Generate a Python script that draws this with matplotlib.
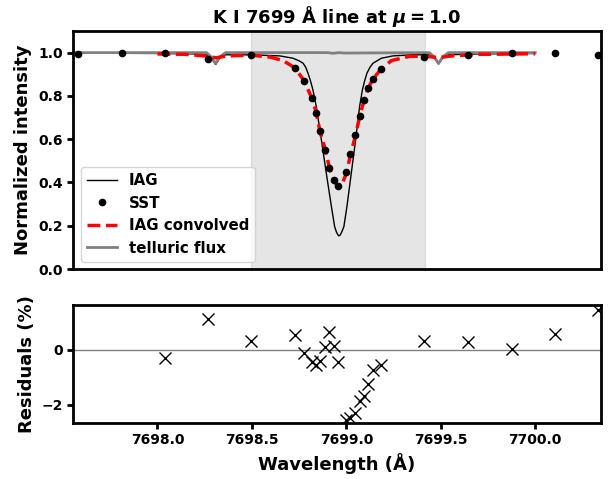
import sys
import numpy as np
import matplotlib
matplotlib.use('Agg')
matplotlib.rc('font', weight='bold')
matplotlib.rc('axes', labelweight='bold', linewidth=2)
matplotlib.rc('xtick', labelsize=10)
matplotlib.rc('ytick', labelsize=10)
import matplotlib.pyplot as plt

# IAG atlas spectrum
iag_wl = [7697.55, 7697.80, 7698.00, 7698.20, 7698.26, 7698.285, 7698.308, 7698.33, 7698.36,
          7698.45, 7698.55, 7698.647, 7698.718, 7698.75, 7698.771, 7698.785, 7698.797, 7698.81,
          7698.823, 7698.841, 7698.868, 7698.894, 7698.921, 7698.938, 7698.947, 7698.955, 7698.961,
          7698.968, 7698.976, 7698.987, 7699.003, 7699.026, 7699.049, 7699.070, 7699.085, 7699.097,
          7699.109, 7699.125, 7699.141, 7699.185, 7699.247, 7699.35, 7699.44, 7699.465, 7699.488,
          7699.51, 7699.54, 7699.70, 7700.00]
iag_int = [0.997, 0.997, 0.996, 0.994, 0.990, 0.975, 0.945, 0.975, 0.990,
           0.990, 0.988, 0.985, 0.974, 0.962, 0.951, 0.932, 0.905, 0.870,
           0.828, 0.750, 0.596, 0.442, 0.288, 0.196, 0.172, 0.158, 0.153,
           0.158, 0.172, 0.196, 0.288, 0.442, 0.596, 0.750, 0.828, 0.870,
           0.905, 0.932, 0.951, 0.974, 0.985, 0.990, 0.990, 0.975, 0.948,
           0.975, 0.990, 0.994, 0.996]

# IAG convolved with SST instrumental profile
conv_wl = [7698.00, 7698.15, 7698.25, 7698.31, 7698.37, 7698.50, 7698.60, 7698.665, 7698.726,
           7698.776, 7698.816, 7698.841, 7698.86, 7698.889, 7698.91, 7698.933, 7698.956, 7698.975,
           7699.00, 7699.021, 7699.048, 7699.07, 7699.093, 7699.116, 7699.139, 7699.185, 7699.238,
           7699.335, 7699.42, 7699.49, 7699.56, 7699.70, 7700.00]
conv_int = [0.994, 0.992, 0.985, 0.976, 0.985, 0.988, 0.979, 0.963, 0.931,
            0.871, 0.792, 0.723, 0.638, 0.550, 0.470, 0.410, 0.380, 0.390,
            0.440, 0.525, 0.615, 0.703, 0.777, 0.836, 0.876, 0.925, 0.963,
            0.983, 0.983, 0.977, 0.985, 0.992, 0.995]

# telluric transmission
tell_wl = [7697.55, 7698.26, 7698.285, 7698.308, 7698.33, 7698.36, 7698.90, 7698.93, 7698.96,
           7698.99, 7699.44, 7699.465, 7699.488, 7699.51, 7699.54, 7700.00]
tell_int = [1.0, 1.0, 0.98, 0.95, 0.98, 1.0, 1.0, 0.997, 1.0,
            0.998, 1.0, 0.98, 0.95, 0.98, 1.0, 1.0]

# SST observations
sst_wl = [7697.577, 7697.81, 7698.04, 7698.266, 7698.497, 7698.726, 7698.776, 7698.816, 7698.841,
          7698.86, 7698.889, 7698.91, 7698.933, 7698.956, 7699.0, 7699.021, 7699.048, 7699.07,
          7699.093, 7699.116, 7699.139, 7699.185, 7699.411, 7699.643, 7699.877, 7700.103, 7700.333]
sst_int = [0.993, 1.0, 1.0, 0.97, 0.989, 0.931, 0.871, 0.792, 0.723,
           0.638, 0.550, 0.466, 0.410, 0.385, 0.448, 0.530, 0.619, 0.707,
           0.780, 0.838, 0.877, 0.925, 0.981, 0.990, 1.0, 0.997, 0.990]

# residuals SST - IAG convolved (%)
res_wl = sst_wl[2:]
res_pct = [-0.28, 1.13, 0.32, 0.545, -0.10, -0.45, -0.56, -0.39, 0.09,
           0.64, 0.15, -0.46, -2.55, -2.49, -2.30, -1.88, -1.67, -1.26,
           -0.75, -0.56, 0.33, 0.27, 0.02, 0.57, 1.45]

fit_range = (7698.497, 7699.414)


def main():
  fig = plt.figure(figsize=(6.12, 4.79), dpi=100)
  ax = fig.add_axes([0.1193, 0.4384, 0.8627, 0.4969])
  axr = fig.add_axes([0.1193, 0.1169, 0.8627, 0.2464])

  ax.axvspan(fit_range[0], fit_range[1], color='gray', alpha=0.2)
  ax.plot(iag_wl, iag_int, color='k', lw=1, label='IAG')
  ax.plot(sst_wl, sst_int, 'k.', ms=9, label='SST', zorder=4)
  ax.plot(conv_wl, conv_int, color='red', ls='--', lw=2.5, label='IAG convolved', zorder=3)
  ax.plot(tell_wl, tell_int, color='gray', lw=2, label='telluric flux')

  ax.set_xlim(7697.553, 7700.348)
  ax.set_ylim(0, 1.1)
  ax.set_xticks([])
  ax.set_ylabel('Normalized intensity', fontsize=13)
  ax.set_title(r'K I 7699 Å line at $\mu = 1.0$', fontsize=13, fontweight='bold')
  ax.tick_params(width=2, length=4)
  ax.legend(loc='lower left', fontsize=10.8, framealpha=0.8)

  axr.axhline(0, color='gray', lw=1)
  axr.plot(res_wl, res_pct, 'kx', ms=8, mew=1)
  axr.set_xlim(7697.553, 7700.348)
  axr.set_ylim(-2.67, 1.64)
  axr.set_yticks([-2, 0])
  axr.set_xlabel('Wavelength (Å)', fontsize=13)
  axr.set_ylabel('Residuals (%)', fontsize=13)
  axr.tick_params(width=2, length=4)

  fig.align_ylabels([ax, axr])
  plt.savefig('out.png', dpi=100)


if __name__ == "__main__":
  sys.exit(main())
